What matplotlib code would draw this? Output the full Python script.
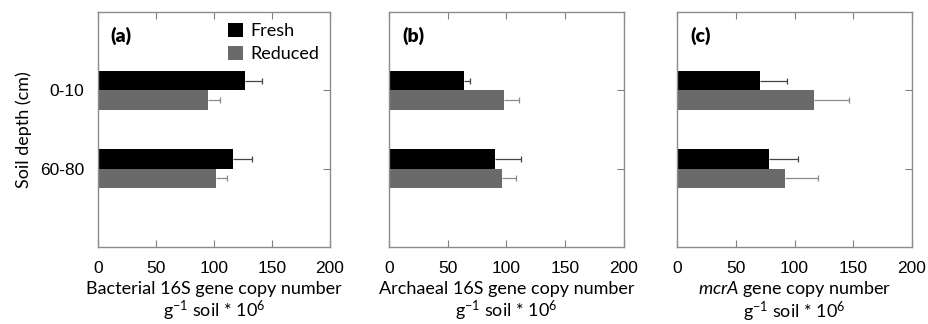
import numpy as np
import matplotlib
matplotlib.use("Agg")
import matplotlib.pyplot as plt

# --- data ---
depths = ["0-10", "60-80"]
treatments = ["Fresh", "Reduced"]

bact_fresh = [127, 116]
bact_fresh_err = [14, 17]
bact_reduced = [95, 102]
bact_reduced_err = [10, 9]

arch_fresh = [64, 90]
arch_fresh_err = [5, 22]
arch_reduced = [98, 96]
arch_reduced_err = [13, 12]

mcra_fresh = [71, 78]
mcra_fresh_err = [23, 25]
mcra_reduced = [117, 92]
mcra_reduced_err = [29, 28]

xticks = [0, 50, 100, 150, 200]
panel_tags = ["(a)", "(b)", "(c)"]
xlabels = [
    "Bacterial 16S gene copy number\ng$^{-1}$ soil * 10$^{6}$",
    "Archaeal 16S gene copy number\ng$^{-1}$ soil * 10$^{6}$",
    "$\\it{mcrA}$ gene copy number\ng$^{-1}$ soil * 10$^{6}$",
]

plt.rcParams["font.family"] = ["Lato", "DejaVu Sans"]
plt.rcParams["mathtext.fontset"] = "custom"
plt.rcParams["mathtext.rm"] = "Lato"
plt.rcParams["mathtext.it"] = "Lato:italic"

tick_font = dict(fontfamily="Liberation Sans", fontsize=12.5)
label_size = 13

fig = plt.figure(figsize=(9.29, 3.24), dpi=100)
lefts = [98, 389, 677]
widths = [232, 235, 235]
axes = [fig.add_axes([l / 929, 1 - 247 / 324, w / 929, 235 / 324])
        for l, w in zip(lefts, widths)]

panels = [
    (bact_fresh, bact_fresh_err, bact_reduced, bact_reduced_err),
    (arch_fresh, arch_fresh_err, arch_reduced, arch_reduced_err),
    (mcra_fresh, mcra_fresh_err, mcra_reduced, mcra_reduced_err),
]

pos = np.arange(1, len(depths) + 1)
h = 0.25
for i, (ax, (fr, fr_e, rd, rd_e)) in enumerate(zip(axes, panels)):
    ax.barh(pos - h / 2, fr, height=h, color="black", label=treatments[0])
    ax.barh(pos + h / 2, rd, height=h, color="#6a6a6a", label=treatments[1])

    # one-sided error bars with a cap at the outer end only
    for vals, errs, off, col in [(fr, fr_e, -h / 2, "#444444"),
                                 (rd, rd_e, h / 2, "#8a8a8a")]:
        ends = np.array(vals) + np.array(errs)
        ax.hlines(pos + off, vals, ends, color=col, lw=0.9)
        ax.plot(ends, pos + off, ls="none", marker="|", ms=4, mew=0.9,
                color=col)

    ax.set_xlim(0, 200)
    ax.set_ylim(3, 0)
    ax.set_xticks(xticks, labels=[str(t) for t in xticks], **tick_font)
    ax.set_yticks(pos, labels=depths if i == 0 else [], **tick_font)
    ax.tick_params(axis="x", direction="in", top=True, bottom=True,
                   length=5, width=0.8, color="#808080", pad=10)
    ax.tick_params(axis="y", direction="in", left=False, right=True,
                   length=5, width=0.8, color="#808080", pad=10)
    for sp in ax.spines.values():
        sp.set_color("#8c8c8c")
        sp.set_linewidth(1.0)

    ax.set_xlabel(xlabels[i], fontsize=label_size,
                  labelpad=4 if i < 2 else 2, linespacing=1.05)
    ax.text(0.055, 0.9, panel_tags[i], transform=ax.transAxes,
            fontsize=14, fontweight="heavy", va="center", ha="left")

axes[0].set_ylabel("Soil depth (cm)", fontsize=label_size, labelpad=6)
axes[0].legend(loc="upper right", frameon=False, fontsize=label_size,
               handlelength=0.85, handleheight=0.85, handletextpad=0.4,
               labelspacing=0.35, borderaxespad=0.2,
               bbox_to_anchor=(1.0, 1.0))

fig.savefig("out.png", dpi=100)
